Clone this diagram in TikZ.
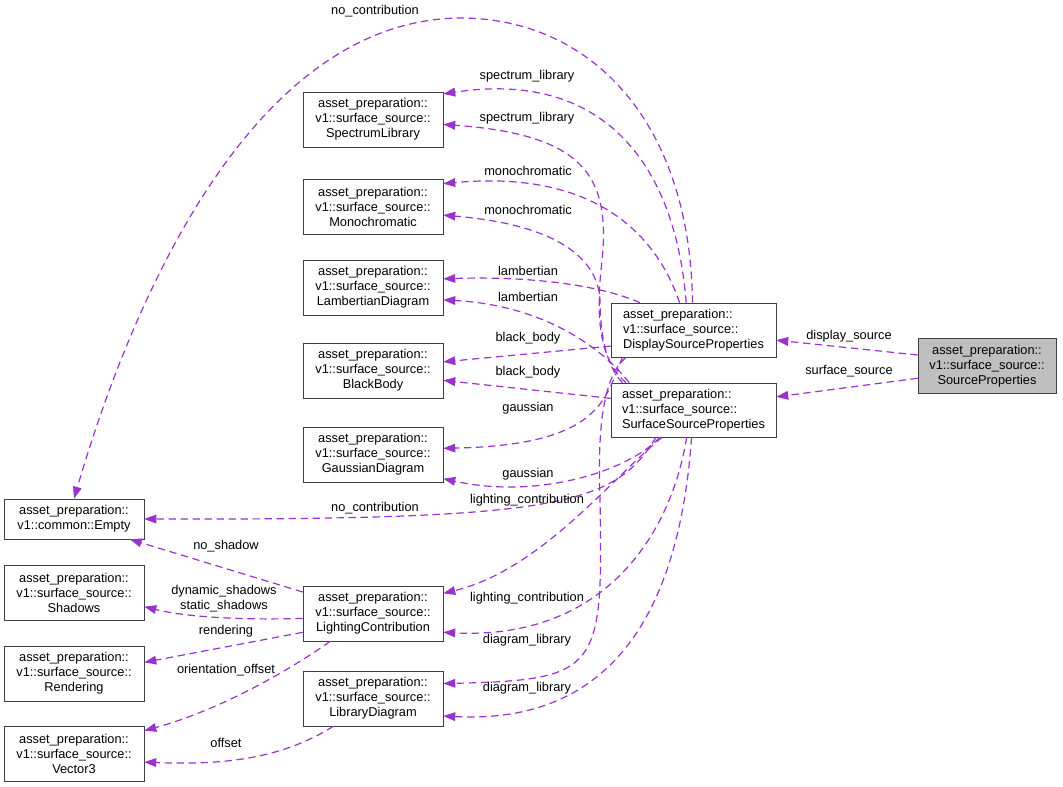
\documentclass[tikz,border=0pt]{standalone}
\usepackage{fontspec}
\setmainfont{Liberation Sans}
\usetikzlibrary{arrows.meta}
\definecolor{membercol}{HTML}{9A32CD}
\definecolor{boxcol}{HTML}{404040}
\begin{document}
\begin{tikzpicture}[x=0.75pt,y=-0.75pt,
  every node/.style={font=\fontsize{9.6}{11.25}\selectfont},
  cls/.style={draw=boxcol,fill=white,align=center,minimum width=105pt,minimum height=41.25pt,inner sep=2pt},
  member/.style={draw=membercol,line width=0.9pt,dash pattern=on 5.5pt off 3.5pt,-{Triangle[length=9pt,width=6.5pt]}},
  lbl/.style={inner sep=0pt}]
  \useasboundingbox (0,0) rectangle (1063,787);
  % Classes, right column
  \node[cls,fill=black!25,minimum width=103.5pt] (source) at (987,366)
      {asset\_preparation::\\v1::surface\_source::\\SourceProperties};
  \node[cls,align=left,minimum width=123.75pt,minimum height=40.5pt] (display) at (693.5,330)
      {asset\_preparation::\\v1::surface\_source::\\DisplaySourceProperties};
  \node[cls,align=left,minimum width=123.75pt,minimum height=40.5pt] (surface) at (693.5,410)
      {asset\_preparation::\\v1::surface\_source::\\SurfaceSourceProperties};
  % Classes, middle column
  \node[cls] (spectrum) at (373,119.5) {asset\_preparation::\\v1::surface\_source::\\SpectrumLibrary};
  \node[cls] (mono) at (373,206.5) {asset\_preparation::\\v1::surface\_source::\\Monochromatic};
  \node[cls] (lambert) at (373,287.5) {asset\_preparation::\\v1::surface\_source::\\LambertianDiagram};
  \node[cls] (blackbody) at (373,370.5) {asset\_preparation::\\v1::surface\_source::\\BlackBody};
  \node[cls] (gauss) at (373,454.5) {asset\_preparation::\\v1::surface\_source::\\GaussianDiagram};
  \node[cls] (lighting) at (373,613.5) {asset\_preparation::\\v1::surface\_source::\\LightingContribution};
  \node[cls] (libdiag) at (373,698.5) {asset\_preparation::\\v1::surface\_source::\\LibraryDiagram};
  % Classes, left column
  \node[cls,minimum height=30pt] (empty) at (74,519) {asset\_preparation::\\v1::common::Empty};
  \node[cls] (shadows) at (74,593) {asset\_preparation::\\v1::surface\_source::\\Shadows};
  \node[cls] (rendering) at (74,673.5) {asset\_preparation::\\v1::surface\_source::\\Rendering};
  \node[cls] (vector) at (74,753.5) {asset\_preparation::\\v1::surface\_source::\\Vector3};

  % SourceProperties members
  \draw[member] (source.171) -- (display.-7);
  \draw[member] (source.190) -- (surface.9);
  \node[lbl] (l-display) at (849,336) {display\_source};
  \node[lbl] (l-surface) at (849,371) {surface\_source};

  % DisplaySourceProperties members
  \draw[member] (display.92) .. controls (690,120) and (590,18) .. (460,18)
      .. controls (260,20) and (138,280) .. (empty.north); % no_contribution
  \draw[member] (display.105) .. controls (675,160) and (600,70) .. (spectrum.20);
  \draw[member] (display.117) .. controls (655,230) and (590,170) .. (mono.18);
  \draw[member] (display.153) .. controls (600,285) and (530,276) .. (lambert.7);
  \draw[member] (display.191) -- (blackbody.7);
  \draw[member] (display.201) .. controls (605,400) and (600,445) .. (gauss.5);
  \draw[member] (display.202) .. controls (605,375) and (597,420) .. (600,500)
      .. controls (603,670) and (600,680) .. (libdiag.12); % diagram_library

  % SurfaceSourceProperties members
  \draw[member] (surface.158) .. controls (600,360) and (596,320) .. (601,270)
      .. controls (612,180) and (590,135) .. (spectrum.-4);
  \draw[member] (surface.159) .. controls (605,365) and (600,330) .. (600,300)
      .. controls (598,260) and (560,225) .. (mono.-7);
  \draw[member] (surface.157) .. controls (600,345) and (540,305) .. (lambert.-10);
  \draw[member] (surface.172) -- (blackbody.-8);
  \draw[member] (surface.219) .. controls (630,470) and (540,500) .. (gauss.-19);
  \draw[member] (surface.216) .. controls (615,505) and (560,520) .. (empty.east); % no_contribution
  \draw[member] (surface.221) .. controls (610,480) and (540,570) .. (lighting.16);
  \draw[member] (surface.256) .. controls (670,540) and (600,640) .. (lighting.-15);
  \draw[member] (surface.266) .. controls (680,600) and (620,725) .. (libdiag.-14);

  % labels of the middle edges
  \node[lbl] (l-nocontrib-a) at (375,11) {no\_contribution};
  \node[lbl] (l-spectrum-a) at (527,76) {spectrum\_library};
  \node[lbl] (l-spectrum-b) at (527,118) {spectrum\_library};
  \node[lbl] (l-mono-a) at (528,171) {monochromatic};
  \node[lbl] (l-mono-b) at (528,210) {monochromatic};
  \node[lbl] (l-lambert-a) at (528,271) {lambertian};
  \node[lbl] (l-lambert-b) at (528,297) {lambertian};
  \node[lbl] (l-black-a) at (528,338) {black\_body};
  \node[lbl] (l-black-b) at (528,372) {black\_body};
  \node[lbl] (l-gauss-a) at (528,408) {gaussian};
  \node[lbl] (l-gauss-b) at (528,474) {gaussian};
  \node[lbl] (l-lighting-a) at (527,500) {lighting\_contribution};
  \node[lbl] (l-nocontrib-b) at (375,508) {no\_contribution};
  \node[lbl] (l-lighting-b) at (527,598) {lighting\_contribution};
  \node[lbl] (l-diag-a) at (527,640) {diagram\_library};
  \node[lbl] (l-diag-b) at (527,688) {diagram\_library};

  % LightingContribution and LibraryDiagram members
  \draw[member] (lighting.163) -- (empty.-20);
  \draw[member] (lighting.184) .. controls (250,620) and (190,618) .. (shadows.-11);
  \draw[member] (lighting.195) -- (rendering.9);
  \draw[member] (lighting.213) .. controls (290,670) and (220,710) .. (vector.18);
  \draw[member] (libdiag.215) .. controls (280,760) and (220,765) .. (vector.-7);
  \node[lbl] (l-noshadow) at (226,546) {no\_shadow};
  \node[lbl,align=center] (l-shadows) at (224,599) {dynamic\_shadows\\static\_shadows};
  \node[lbl] (l-rendering) at (226,631) {rendering};
  \node[lbl] (l-orient) at (226,670) {orientation\_offset};
  \node[lbl] (l-offset) at (226,743) {offset};
\end{tikzpicture}
\end{document}
